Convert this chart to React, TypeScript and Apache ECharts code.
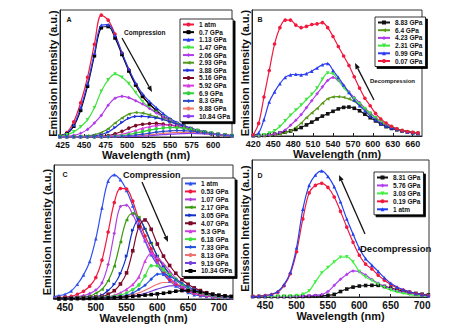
import React, { useEffect, useRef } from "react";
import * as echarts from "echarts";

const FONT = '"Liberation Sans Narrow", "Liberation Sans", Arial, sans-serif';

// ---- Panel A: compression ----
const wlA = [422, 430, 438, 446, 454, 462, 470, 478, 486, 494, 502, 510, 518, 526, 534, 542, 550, 558, 566, 574, 582, 590, 598, 606, 614, 622];
const a_1atm = [1, 3.5, 12, 27, 47, 73, 96, 92, 81, 66, 53, 41, 32, 26, 20.5, 16, 13, 10, 8, 6.2, 4.8, 3.5, 2.6, 1.8, 1.3, 1];
const a_070 = [0.5, 2.5, 8.5, 21, 40, 64, 86, 87, 78, 65, 52, 41, 32, 26, 21, 16.5, 13.3, 10.5, 8.5, 6.6, 5, 3.8, 2.8, 2, 1.4, 1];
const a_113 = [0.8, 3, 9.5, 23, 42, 66, 88, 88.5, 80, 66.5, 53.5, 42.5, 34, 28, 23, 18.5, 14.5, 11.5, 9, 7, 5.3, 4, 3, 2.1, 1.5, 1];
const a_147 = [0.5, 1.8, 4, 8, 13.5, 23, 36, 45, 49.5, 47, 42, 35, 28, 23, 19.5, 16, 13, 10.3, 8, 6.2, 4.8, 3.6, 2.7, 2, 1.4, 1];
const a_206 = [0.3, 0.6, 1.3, 3, 6, 11, 17, 25, 30.5, 32, 31, 28.5, 26, 22.5, 19, 16, 13, 10.3, 8, 6.2, 4.8, 3.6, 2.7, 2, 1.4, 1];
const a_293 = [0.2, 0.2, 0.3, 0.5, 0.9, 1.8, 3.5, 6.5, 11, 15, 18, 19.3, 18.8, 17.5, 15.8, 14, 12, 10, 8, 6.3, 4.9, 3.7, 2.8, 2, 1.4, 1];
const a_388 = [0.2, 0.2, 0.2, 0.3, 0.5, 0.9, 2, 4, 7.5, 11.5, 14.8, 16.2, 16.3, 15.8, 15, 13.8, 12, 10.2, 8.5, 6.8, 5.3, 4, 3, 2.2, 1.5, 1.1];
const a_516 = [0.2, 0.2, 0.2, 0.2, 0.2, 0.3, 0.6, 1.2, 2.5, 4.5, 7, 9, 10, 10.6, 10.7, 10.2, 9.4, 8.3, 7, 5.8, 4.6, 3.5, 2.6, 1.9, 1.3, 1];
const a_592 = [0.1, 0.1, 0.1, 0.1, 0.2, 0.2, 0.3, 0.6, 1.1, 2, 3.4, 5.1, 6.8, 8.1, 9, 9.5, 9.5, 9, 7.8, 6.5, 5.2, 4, 3, 2.2, 1.5, 1.1];
const a_690 = [0.1, 0.1, 0.1, 0.1, 0.1, 0.1, 0.2, 0.3, 0.6, 1, 1.9, 3.1, 4.3, 5.4, 6.4, 7.1, 7.5, 7.4, 6.9, 6, 5, 3.9, 3, 2.2, 1.5, 1.1];
const a_830 = [0.1, 0.1, 0.1, 0.1, 0.1, 0.1, 0.1, 0.2, 0.4, 0.6, 0.9, 1.5, 2.2, 3, 3.8, 4.4, 4.9, 5.1, 5, 4.6, 4, 3.3, 2.6, 2, 1.4, 1];
const a_988 = [0.1, 0.1, 0.1, 0.1, 0.1, 0.1, 0.1, 0.1, 0.2, 0.3, 0.5, 0.8, 1.2, 1.7, 2.3, 2.8, 3.3, 3.6, 3.7, 3.6, 3.3, 2.9, 2.4, 1.9, 1.4, 1];
const a_1084 = [0.1, 0.1, 0.1, 0.1, 0.1, 0.1, 0.1, 0.1, 0.1, 0.2, 0.3, 0.5, 0.7, 1, 1.4, 1.8, 2.2, 2.5, 2.7, 2.8, 2.7, 2.5, 2.2, 1.8, 1.4, 1];
const ticksA = [425, 450, 475, 500, 525, 550, 575, 600];

// ---- Panel B: decompression ----
const wlB = [420, 428, 436, 444, 452, 460, 468, 476, 484, 492, 500, 508, 516, 524, 532, 540, 548, 556, 564, 572, 580, 588, 596, 604, 612, 620, 628, 636, 644, 652, 660, 668];
const b_883 = [0.2, 0.3, 0.5, 0.9, 1.5, 2.3, 3.1, 4, 5.2, 6.7, 8.8, 11, 13.5, 15.8, 17.6, 19.6, 21.5, 22.7, 23, 22, 20, 17.3, 14.5, 12, 9.5, 7.4, 6, 4.9, 4, 3.2, 2.6, 2];
const b_640 = [0.2, 0.2, 0.3, 0.5, 0.9, 1.5, 2.6, 4.1, 6.8, 10.2, 14.5, 18.3, 21.8, 26, 29.5, 31, 31.2, 30.7, 29.5, 27.5, 24.3, 20.8, 17.5, 14.2, 11.3, 9, 7.1, 5.6, 4.4, 3.4, 2.7, 2];
const b_423 = [0.2, 0.3, 0.5, 0.9, 1.5, 2.6, 4.8, 8.5, 12.5, 17, 22.5, 28, 33.5, 39, 44, 46.5, 44, 40, 35, 30.5, 26.5, 22, 18.3, 14.8, 11.5, 9, 7.2, 5.6, 4.4, 3.4, 2.7, 2];
const b_231 = [0.3, 0.5, 1, 2.3, 4.2, 7.5, 12, 16.5, 20.5, 24.5, 29, 33, 38, 45, 50, 49.5, 44, 38.5, 34, 29.5, 25.5, 21.5, 18, 14.5, 11.3, 8.8, 6.8, 5.3, 4.2, 3.3, 2.6, 2];
const b_099 = [0.8, 2.5, 13, 27, 35, 41.5, 46.5, 48.5, 49, 48.5, 49.5, 51.5, 54, 56.5, 57.5, 52, 46.5, 40.5, 34.5, 28.5, 24, 20, 16, 13, 10, 8, 6.5, 5.3, 4.2, 3.3, 2.6, 2];
const b_007 = [1, 10, 31, 52, 73, 86, 92, 92, 88, 86, 87, 88.5, 89, 90, 86, 79, 71, 63.5, 56, 47, 38, 30, 24, 18, 13.5, 10.3, 7.7, 5.8, 4.5, 3.6, 3, 2.5];
const ticksB = [420, 450, 480, 510, 540, 570, 600, 630, 660];

// ---- Panel C: compression ----
const wlC = [430, 440, 450, 460, 470, 480, 490, 500, 510, 520, 530, 540, 550, 560, 570, 580, 590, 600, 610, 620, 630, 640, 650, 660, 670, 680, 690, 700, 710, 720];
const c_1atm = [1.5, 2.5, 3.5, 6, 11, 18, 28, 45, 68, 88, 92.7, 89, 81, 69.5, 55.5, 43.5, 33, 25.5, 18.5, 13.5, 9.8, 6.8, 4.8, 3.2, 2.4, 1.9, 1.5, 1.3, 1.1, 1];
const c_053 = [0.8, 1, 1.4, 2, 3.5, 5.8, 9.5, 16, 29, 50, 72, 82.5, 82, 73, 59, 47, 37.5, 28.5, 20, 14.5, 11.2, 8.3, 5.8, 4.3, 3.1, 2.4, 1.8, 1.4, 1.2, 1];
const c_107 = [0.6, 0.8, 1, 1.3, 1.7, 2.5, 4, 6.7, 12, 25.8, 49, 69, 70, 63, 53, 43.5, 34.8, 27.5, 21, 15.8, 12, 8.8, 6.2, 4.5, 3.3, 2.5, 1.8, 1.4, 1.2, 1];
const c_217 = [0.5, 0.6, 0.8, 1, 1.3, 1.6, 2, 4.3, 7.2, 13.6, 24.5, 42.5, 59, 64, 61, 52, 41.5, 32, 24.5, 18.8, 14.3, 11, 8.2, 6.1, 4.5, 3.4, 2.6, 2, 1.6, 1.3];
const c_305 = [0.4, 0.5, 0.6, 0.8, 1, 1.2, 1.5, 1.8, 3, 6.3, 11, 19, 32, 51.3, 59.5, 52.5, 42, 32, 24.5, 18.5, 14.2, 11, 8.3, 6.4, 4.8, 3.4, 2.5, 1.8, 1.4, 1.2];
const c_407 = [0.3, 0.4, 0.5, 0.6, 0.8, 1, 1.2, 1.5, 1.9, 3.6, 6.2, 11.2, 19.5, 36, 54, 59, 52, 41, 32, 25, 19.2, 14.4, 11, 8.3, 6.3, 4.7, 3.5, 2.6, 2.1, 1.7];
const c_530 = [0.3, 0.3, 0.4, 0.5, 0.6, 0.8, 1, 1.3, 1.6, 1.9, 2.8, 4.6, 7.2, 10.8, 16.5, 28.2, 34, 31.3, 26.3, 21, 15.5, 11.7, 8.7, 6.5, 4.8, 3.6, 2.6, 2, 1.6, 1.3];
const c_618 = [0.3, 0.3, 0.3, 0.4, 0.5, 0.6, 0.8, 1, 1.3, 1.6, 2, 3, 4.5, 7, 10.5, 17.3, 24.8, 24.8, 21.7, 18, 14.8, 11.3, 8.7, 6.5, 4.8, 3.6, 2.7, 2, 1.6, 1.3];
const c_733 = [0.2, 0.2, 0.3, 0.3, 0.4, 0.5, 0.6, 0.8, 1, 1.2, 1.5, 1.8, 2.8, 4.5, 7.2, 10.3, 14.8, 18.5, 18.8, 16.8, 14.6, 11.8, 9.2, 7, 5.2, 3.9, 2.9, 2.2, 1.7, 1.3];
const c_813 = [0.2, 0.2, 0.2, 0.3, 0.3, 0.4, 0.5, 0.6, 0.8, 1, 1.3, 1.7, 2.3, 3.2, 4.6, 6.5, 8.8, 11, 12.3, 12.3, 11.4, 9.8, 8, 6.3, 4.9, 3.8, 2.9, 2.2, 1.7, 1.3];
const c_919 = [0.2, 0.2, 0.2, 0.2, 0.3, 0.3, 0.4, 0.5, 0.6, 0.7, 0.9, 1.2, 1.6, 2.1, 3, 4.2, 5.8, 7.4, 8.8, 9.8, 10, 9.3, 8, 6.6, 5.2, 4, 3, 2.3, 1.8, 1.4];
const c_1034 = [0.2, 0.2, 0.2, 0.2, 0.3, 0.3, 0.4, 0.5, 0.6, 0.8, 1, 1.3, 1.6, 2, 2.4, 2.9, 3.3, 3.8, 4.3, 5, 5.8, 6.3, 6.3, 5.9, 5.2, 4.3, 3.5, 2.8, 2.3, 1.9];
const ticksC = [450, 500, 550, 600, 650, 700];

// ---- Panel D: decompression ----
const wlD = [430, 440, 450, 460, 470, 480, 490, 500, 510, 520, 530, 540, 550, 560, 570, 580, 590, 600, 610, 620, 630, 640, 650, 660, 670, 680, 690, 700, 710];
const d_831 = [0.3, 0.3, 0.3, 0.3, 0.3, 0.3, 0.3, 0.3, 0.4, 0.5, 0.6, 0.8, 1.2, 1.9, 4, 5.8, 7.2, 8, 8.4, 8.5, 8.5, 7.7, 6.6, 5.3, 4.3, 3.4, 2.6, 2, 1.5];
const d_576 = [0.3, 0.3, 0.3, 0.3, 0.3, 0.3, 0.4, 0.5, 0.7, 1, 1.3, 1.8, 4, 8.5, 13, 16.5, 19, 18.5, 16, 12.8, 10, 7.8, 6, 4.6, 3.5, 2.6, 1.9, 1.4, 1.1];
const d_303 = [0.3, 0.3, 0.3, 0.4, 0.5, 0.6, 0.7, 1, 2, 4.5, 11, 17.5, 21.5, 25.5, 29, 29.3, 25.5, 18.5, 14.5, 12, 9.3, 6.9, 5, 3.6, 2.6, 1.8, 1.2, 0.9, 0.7];
const d_019 = [0.5, 0.7, 1, 1.8, 3.5, 8.2, 17, 33, 57, 76, 81.5, 83, 80, 73, 62.5, 51, 40, 30.5, 24, 20.5, 16, 12.3, 9.2, 6.8, 5, 3.6, 2.5, 1.7, 1];
const d_1atm = [0.5, 0.7, 1, 2, 4, 9, 18, 36, 64, 81.5, 89, 92, 88, 80.5, 69.5, 57, 46, 35.5, 28, 23.3, 18.7, 14, 10, 7.3, 5.4, 3.8, 2.6, 1.7, 1];
const ticksD = [450, 500, 550, 600, 650, 700];

// [label, values, colour, symbol, symbol rotation]
type Spec = [string, number[], string, string, number];

const specsA: Spec[] = [
  ["1 atm", a_1atm, "#f0193f", "circle", 0],
  ["0.7 GPa", a_070, "#000000", "rect", 0],
  ["1.13 GPa", a_113, "#2b3df0", "triangle", 0],
  ["1.47 GPa", a_147, "#3fe43f", "triangle", 180],
  ["2.06 GPa", a_206, "#b23ce8", "diamond", 0],
  ["2.93 GPa", a_293, "#4f9a1e", "triangle", 90],
  ["3.88 GPa", a_388, "#1d2fd6", "triangle", -90],
  ["5.16 GPa", a_516, "#7a0a2a", "circle", 0],
  ["5.92 GPa", a_592, "#d63ae0", "triangle", 0],
  ["6.9 GPa", a_690, "#2fd03a", "circle", 0],
  ["8.3 GPa", a_830, "#2c4bd0", "diamond", 0],
  ["9.88 GPa", a_988, "#f07a6a", "none", 0],
  ["10.84 GPa", a_1084, "#8a3cf0", "none", 0],
];
const specsB: Spec[] = [
  ["8.83 GPa", b_883, "#111111", "rect", 0],
  ["6.4 GPa", b_640, "#5a9a1a", "triangle", 90],
  ["4.23 GPa", b_423, "#b23ce8", "diamond", 0],
  ["2.31 GPa", b_231, "#3fe43f", "triangle", 180],
  ["0.99 GPa", b_099, "#2b3df0", "triangle", 0],
  ["0.07 GPa", b_007, "#f0193f", "circle", 0],
];
const specsC: Spec[] = [
  ["1 atm", c_1atm, "#3050f0", "triangle", 0],
  ["0.53 GPa", c_053, "#f0193f", "circle", 0],
  ["1.07 GPa", c_107, "#b040e0", "diamond", 0],
  ["2.17 GPa", c_217, "#3a9a10", "triangle", 90],
  ["3.05 GPa", c_305, "#1030c8", "triangle", -90],
  ["4.07 GPa", c_407, "#7a0a2a", "rect", 0],
  ["5.3 GPa", c_530, "#d040e0", "triangle", 0],
  ["6.18 GPa", c_618, "#40e040", "circle", 0],
  ["7.33 GPa", c_733, "#2050e0", "diamond", 0],
  ["8.13 GPa", c_813, "#f07070", "none", 0],
  ["9.19 GPa", c_919, "#7040e0", "none", 0],
  ["10.34 GPa", c_1034, "#000000", "rect", 0],
];
const specsD: Spec[] = [
  ["8.31 GPa", d_831, "#111111", "rect", 0],
  ["5.76 GPa", d_576, "#b040f0", "diamond", 0],
  ["3.03 GPa", d_303, "#40f040", "triangle", 180],
  ["0.19 GPa", d_019, "#f0193f", "circle", 0],
  ["1 atm", d_1atm, "#2040f0", "triangle", 0],
];

function buildSeries(panel: string, idx: number, wl: number[], specs: Spec[]) {
  return specs.map(([label, vals, color, symbol, rot]) => ({
    type: "line",
    name: `${panel}|${label}`,
    xAxisIndex: idx,
    yAxisIndex: idx,
    data: wl.map((w, i) => [w, vals[i]]),
    smooth: 0.35,
    symbol,
    symbolSize: 3.6,
    symbolRotate: rot,
    showSymbol: symbol !== "none",
    lineStyle: { color, width: 1.2 },
    itemStyle: { color },
    emphasis: { disabled: true },
  }));
}

function buildLegend(panel: string, specs: Spec[], left: number, top: number, gap: number, iw: number) {
  return {
    orient: "vertical",
    left,
    top,
    data: specs.map((s) => `${panel}|${s[0]}`),
    formatter: (n: string) => n.split("|")[1],
    selectedMode: false,
    itemWidth: iw,
    itemHeight: 5,
    itemGap: gap,
    itemTextGap: 2,
    padding: [2, 3, 2, 2],
    backgroundColor: "#ffffff",
    borderColor: "#000000",
    borderWidth: 0.8,
    borderRadius: 0,
    shadowColor: "#000000",
    shadowOffsetX: 2,
    shadowOffsetY: 2,
    shadowBlur: 0,
    textStyle: { fontSize: 6.5, fontWeight: "bold", fontFamily: FONT, color: "#111", lineHeight: 7 },
  };
}

function xAxis(idx: number, min: number, max: number, ticks: number[], fs: number, gap: number) {
  return {
    type: "value",
    gridIndex: idx,
    min,
    max,
    name: "Wavelength (nm)",
    nameLocation: "middle",
    nameGap: gap,
    nameTextStyle: { fontSize: 11, fontWeight: "bold", fontFamily: FONT, color: "#111" },
    axisLine: { show: true, onZero: false, lineStyle: { color: "#222", width: 1 } },
    axisTick: { show: true, inside: true, length: 3, customValues: ticks, lineStyle: { color: "#222" } },
    axisLabel: { customValues: ticks, fontSize: fs, fontWeight: "bold", fontFamily: FONT, color: "#111", margin: 3 },
    splitLine: { show: false },
  };
}

function yAxis(idx: number, max: number) {
  return {
    type: "value",
    gridIndex: idx,
    min: 0,
    max,
    name: "Emission Intensity (a.u.)",
    nameLocation: "middle",
    nameGap: 2,
    nameRotate: 90,
    nameTextStyle: { fontSize: 11, fontWeight: "bold", fontFamily: FONT, color: "#111" },
    axisLine: { show: true, lineStyle: { color: "#222", width: 1 } },
    axisTick: { show: false },
    axisLabel: { show: false },
    splitLine: { show: false },
  };
}

function arrow(x1: number, y1: number, x2: number, y2: number) {
  const dx = x2 - x1;
  const dy = y2 - y1;
  const len = Math.hypot(dx, dy);
  const ux = dx / len;
  const uy = dy / len;
  const hl = 6;
  const hw = 2.4;
  const bx = x2 - ux * hl;
  const by = y2 - uy * hl;
  return [
    { type: "line", shape: { x1, y1, x2: bx, y2: by }, style: { stroke: "#111", lineWidth: 1.3 }, z: 100 },
    {
      type: "polygon",
      shape: { points: [[x2, y2], [bx - uy * hw, by + ux * hw], [bx + uy * hw, by - ux * hw]] },
      style: { fill: "#111" },
      z: 100,
    },
  ];
}

function label(text: string, x: number, y: number, size: number, align = "left") {
  return {
    type: "text",
    x,
    y,
    z: 100,
    style: { text, fontSize: size, fontWeight: "bold", fontFamily: FONT, fill: "#111", align, verticalAlign: "middle" },
  };
}

export default function App() {
  const ref = useRef<HTMLDivElement>(null);

  useEffect(() => {
    if (!ref.current) return;
    const chart = echarts.init(ref.current, undefined, { renderer: "svg" });
    const gridStyle = { show: true, borderColor: "#333", borderWidth: 1, backgroundColor: "transparent" };
    chart.setOption({
      animation: false,
      backgroundColor: "#ffffff",
      grid: [
        { left: 60, top: 10, width: 172, height: 127, ...gridStyle },
        { left: 252, top: 10, width: 170, height: 126, ...gridStyle },
        { left: 54, top: 165, width: 179, height: 134, ...gridStyle },
        { left: 252, top: 160, width: 177, height: 137, ...gridStyle },
      ],
      xAxis: [
        xAxis(0, 422, 622, ticksA, 8.5, 9),
        xAxis(1, 418, 674, ticksB, 9, 10),
        xAxis(2, 432, 723, ticksC, 10, 9),
        xAxis(3, 429, 711, ticksD, 10, 10),
      ],
      yAxis: [yAxis(0, 100), yAxis(1, 100), yAxis(2, 100), yAxis(3, 100)],
      legend: [
        buildLegend("A", specsA, 180, 19, 0.64, 11),
        buildLegend("B", specsB, 375, 17, 0.7, 12),
        buildLegend("C", specsC, 182, 178, 0.95, 11),
        buildLegend("D", specsD, 374, 172, 0.95, 11),
      ],
      series: [
        ...buildSeries("A", 0, wlA, specsA),
        ...buildSeries("B", 1, wlB, specsB),
        ...buildSeries("C", 2, wlC, specsC),
        ...buildSeries("D", 3, wlD, specsD),
      ],
      graphic: [
        label("A", 69, 19, 7, "center"),
        label("B", 260, 19, 7, "center"),
        label("C", 65, 174.5, 7, "center"),
        label("D", 260, 175, 7, "center"),
        label("Compression", 124, 32, 6.5),
        label("Decompression", 370, 81, 6),
        label("Compression", 123, 174.5, 9),
        label("Decompression", 360, 248, 9.5),
        ...arrow(122, 38, 152, 92),
        ...arrow(374, 100, 355, 63),
        ...arrow(142, 182, 168, 242),
        ...arrow(365, 234, 339, 175),
      ],
    });
    return () => chart.dispose();
  }, []);

  return (
    <div
      ref={ref}
      style={{ position: "fixed", left: 0, top: 0, width: 474, height: 334, background: "#fff" }}
    />
  );
}
